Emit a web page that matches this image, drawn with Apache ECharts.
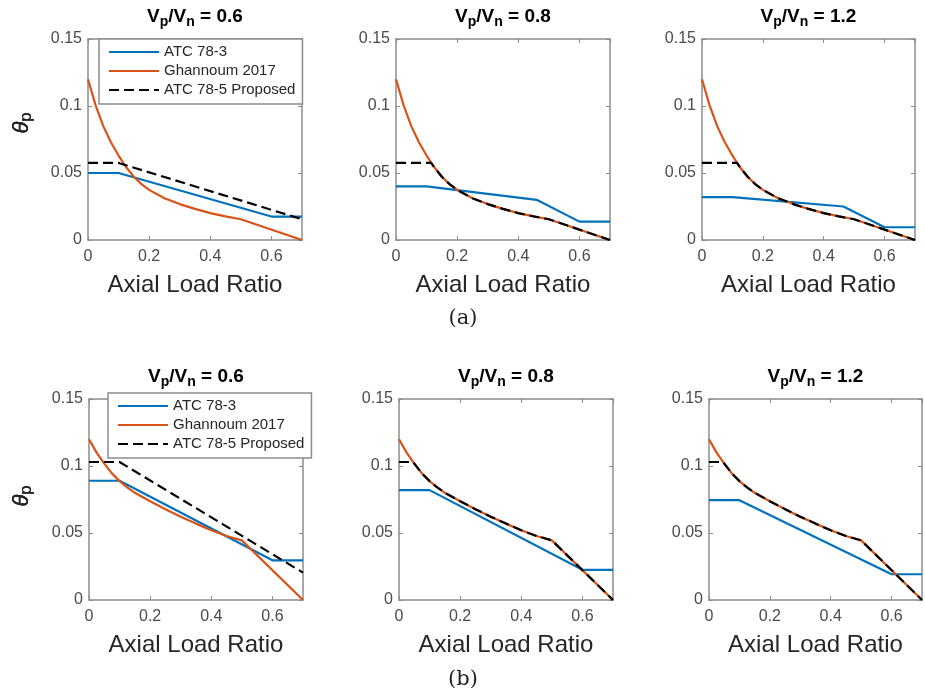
<!DOCTYPE html>
<html>
<head>
<meta charset="utf-8">
<script src="https://cdn.jsdelivr.net/npm/echarts@6/dist/echarts.min.js"></script>
<style>
  html, body { margin: 0; padding: 0; background: #fff; }
  #chart { width: 925px; height: 694px; }
</style>
</head>
<body>
<div id="chart"></div>
<script>
// ---- data -------------------------------------------------------------
const seriesNames = ['ATC 78-3', 'Ghannoum 2017', 'ATC 78-5 Proposed'];
const shearRatios = ['0.6', '0.8', '1.2'];          // Vp/Vn for each column
const rowLabels = ['(a)', '(b)'];
const xRange = [0, 0.7], xStep = 0.2;                // axial load ratio axis
const yRange = [0, 0.15], yStep = 0.05;              // plastic rotation axis

// Ghannoum 2017 model, one curve per row
const ghannoumA = [[0, 0.120], [0.025, 0.1005], [0.05, 0.085], [0.075, 0.073], [0.1, 0.063],
  [0.125, 0.0543], [0.15, 0.0472], [0.175, 0.0417], [0.2, 0.0374], [0.25, 0.0312],
  [0.3, 0.0268], [0.35, 0.0232], [0.4, 0.0201], [0.45, 0.0176], [0.5, 0.0155], [0.7, 0]];
const ghannoumB = [[0, 0.120], [0.025, 0.110], [0.05, 0.1018], [0.075, 0.0945], [0.1, 0.0887],
  [0.125, 0.084], [0.15, 0.080], [0.2, 0.0737], [0.25, 0.0678], [0.3, 0.0622],
  [0.35, 0.057], [0.4, 0.052], [0.45, 0.0478], [0.5, 0.0445], [0.7, 0]];

// ATC 78-3 curves
const atcA06 = [[0, 0.05], [0.1, 0.05], [0.6, 0.0175], [0.7, 0.0175]];
const atcA08 = [[0, 0.04], [0.1, 0.04], [0.46, 0.03], [0.6, 0.0137], [0.7, 0.0137]];
const atcA12 = [[0, 0.032], [0.1, 0.032], [0.465, 0.025], [0.6, 0.0095], [0.7, 0.0095]];
const atcB06 = [[0, 0.089], [0.1, 0.089], [0.6, 0.0296], [0.7, 0.0296]];
const atcB08 = [[0, 0.082], [0.1, 0.082], [0.6, 0.0225], [0.7, 0.0225]];
const atcB12 = [[0, 0.0745], [0.1, 0.0745], [0.6, 0.0192], [0.7, 0.0192]];

// ATC 78-5 proposed curves
const propA06 = [[0, 0.0575], [0.1, 0.0575], [0.7, 0.0155]];
const propA08 = [[0, 0.0575], [0.115, 0.0575], [0.125, 0.0543], [0.15, 0.0472], [0.175, 0.0417],
  [0.2, 0.0374], [0.25, 0.0312], [0.3, 0.0268], [0.35, 0.0232], [0.4, 0.0201],
  [0.45, 0.0176], [0.5, 0.0155], [0.7, 0]];
const propA12 = [[0, 0.0575], [0.115, 0.0575], [0.125, 0.0543], [0.15, 0.0472], [0.175, 0.0417],
  [0.2, 0.0374], [0.25, 0.0312], [0.3, 0.0268], [0.35, 0.0232], [0.4, 0.0201],
  [0.45, 0.0176], [0.5, 0.0155], [0.7, 0]];
const propB06 = [[0, 0.103], [0.1, 0.103], [0.7, 0.0204]];
const propB08 = [[0, 0.103], [0.046, 0.103], [0.05, 0.1018], [0.075, 0.0945], [0.1, 0.0887],
  [0.125, 0.084], [0.15, 0.080], [0.2, 0.0737], [0.25, 0.0678], [0.3, 0.0622],
  [0.35, 0.057], [0.4, 0.052], [0.45, 0.0478], [0.5, 0.0445], [0.7, 0]];
const propB12 = [[0, 0.103], [0.046, 0.103], [0.05, 0.1018], [0.075, 0.0945], [0.1, 0.0887],
  [0.125, 0.084], [0.15, 0.080], [0.2, 0.0737], [0.25, 0.0678], [0.3, 0.0622],
  [0.35, 0.057], [0.4, 0.052], [0.45, 0.0478], [0.5, 0.0445], [0.7, 0]];

// ---- layout & style -----------------------------------------------------
const panels = [
  { row: 0, col: 0, box: [88, 39, 214, 201], lines: [atcA06, ghannoumA, propA06] },
  { row: 0, col: 1, box: [396, 39, 214, 201], lines: [atcA08, ghannoumA, propA08] },
  { row: 0, col: 2, box: [702, 39, 213, 201], lines: [atcA12, ghannoumA, propA12] },
  { row: 1, col: 0, box: [89, 399, 214, 201], lines: [atcB06, ghannoumB, propB06] },
  { row: 1, col: 1, box: [399, 399, 214, 201], lines: [atcB08, ghannoumB, propB08] },
  { row: 1, col: 2, box: [709, 399, 213, 201], lines: [atcB12, ghannoumB, propB12] }
];
const FONT = '"Liberation Sans", Arial, Helvetica, sans-serif';
const AXIS_GREY = '#8c8c8c';
const LABEL_GREY = '#4a4a4a';
const TEXT_DARK = '#262626';
const lineColors = ['#0072BD', '#D95319', '#000000'];
const lineDash = ['solid', 'solid', [10, 5]];

const grid = [], xAxis = [], yAxis = [], series = [], graphic = [];

function baseAxis(i, pos, withLabels) {
  return {
    gridIndex: i, type: 'value', position: pos,
    axisLine: { show: true, onZero: false, lineStyle: { color: AXIS_GREY, width: 1.5 } },
    axisTick: { show: true, inside: true, length: 4, lineStyle: { color: AXIS_GREY, width: 1 } },
    axisLabel: { show: withLabels, color: LABEL_GREY, fontSize: 16, fontFamily: FONT, showMaxLabel: withLabels && pos !== 'bottom' },
    splitLine: { show: false }
  };
}

panels.forEach((p, i) => {
  const [l, t, w, h] = p.box;
  grid.push({ left: l, top: t, width: w, height: h, show: false });

  const xb = baseAxis(i, 'bottom', true);
  Object.assign(xb, { min: xRange[0], max: xRange[1], interval: xStep,
    name: 'Axial Load Ratio', nameLocation: 'middle', nameGap: 33,
    nameTextStyle: { fontSize: 24, color: TEXT_DARK, fontFamily: FONT } });
  xb.axisLabel.margin = 9;
  xb.axisLabel.showMaxLabel = false;
  const xt = baseAxis(i, 'top', false);
  Object.assign(xt, { min: xRange[0], max: xRange[1], interval: xStep });

  const yl = baseAxis(i, 'left', true);
  Object.assign(yl, { min: yRange[0], max: yRange[1], interval: yStep });
  yl.axisLabel.margin = 6;
  const yr = baseAxis(i, 'right', false);
  Object.assign(yr, { min: yRange[0], max: yRange[1], interval: yStep });

  xAxis.push(xb, xt);
  yAxis.push(yl, yr);

  p.lines.forEach((d, k) => {
    series.push({
      name: seriesNames[k], type: 'line', data: d,
      xAxisIndex: 2 * i, yAxisIndex: 2 * i,
      symbol: 'none', showSymbol: false, silent: true, animation: false,
      z: 2 + k,
      lineStyle: { color: lineColors[k], width: 2.2, type: lineDash[k] },
      itemStyle: { color: lineColors[k] }
    });
  });

  // panel title  V_p/V_n = ratio
  const cx = l + w / 2;
  graphic.push({
    type: 'text', x: cx, y: t - 32, z: 10,
    style: {
      text: '{m|V}{s|p}{m|/V}{s|n}{m| = ' + shearRatios[p.col] + '}',
      align: 'center', verticalAlign: 'top',
      rich: {
        m: { fontSize: 19, fontWeight: 'bold', fontFamily: FONT, fill: '#000', lineHeight: 22, verticalAlign: 'top' },
        s: { fontSize: 14, fontWeight: 'bold', fontFamily: FONT, fill: '#000', lineHeight: 22, verticalAlign: 'top', padding: [8, 0, 0, 0] }
      }
    }
  });

  // y-axis label  theta_p
  graphic.push({
    type: 'text', x: 23, y: t + (p.row === 0 ? 84 : 97), rotation: Math.PI / 2, z: 10,
    style: {
      text: '{t|θ}{s|p}',
      align: 'center', verticalAlign: 'middle',
      rich: {
        t: { fontSize: 22, fontStyle: 'italic', fontFamily: FONT, fill: TEXT_DARK, lineHeight: 24, verticalAlign: 'top' },
        s: { fontSize: 16, fontFamily: FONT, fill: TEXT_DARK, lineHeight: 24, verticalAlign: 'top', padding: [8, 0, 0, 0] }
      }
    }
  });
});

// row captions
graphic.push(
  { type: 'text', x: 463, y: 319, style: { text: rowLabels[0], align: 'center', verticalAlign: 'middle',
      fontSize: 21, fontFamily: '"DejaVu Serif", "Liberation Serif", serif', fill: '#222' } },
  { type: 'text', x: 463, y: 680, style: { text: rowLabels[1], align: 'center', verticalAlign: 'middle',
      fontSize: 21, fontFamily: '"DejaVu Serif", "Liberation Serif", serif', fill: '#222' } }
);

const legendBase = {
  data: seriesNames, orient: 'vertical', itemWidth: 50, itemHeight: 12, itemGap: 3,
  padding: [5, 7, 6, 9], backgroundColor: '#fff', borderColor: AXIS_GREY, borderWidth: 1.5,
  textStyle: { fontSize: 15, color: TEXT_DARK, fontFamily: FONT, lineHeight: 16 },
  itemStyle: { opacity: 0, color: 'rgba(0,0,0,0)', borderWidth: 0 },
  selectedMode: false, z: 20
};

const option = {
  backgroundColor: '#fff',
  animation: false,
  grid, xAxis, yAxis, series, graphic,
  legend: [
    Object.assign({}, legendBase, { left: 99, top: 39 }),
    Object.assign({}, legendBase, { left: 108, top: 393 })
  ]
};

const chart = echarts.init(document.getElementById('chart'), null, { renderer: 'canvas' });
chart.setOption(option);
</script>
</body>
</html>
